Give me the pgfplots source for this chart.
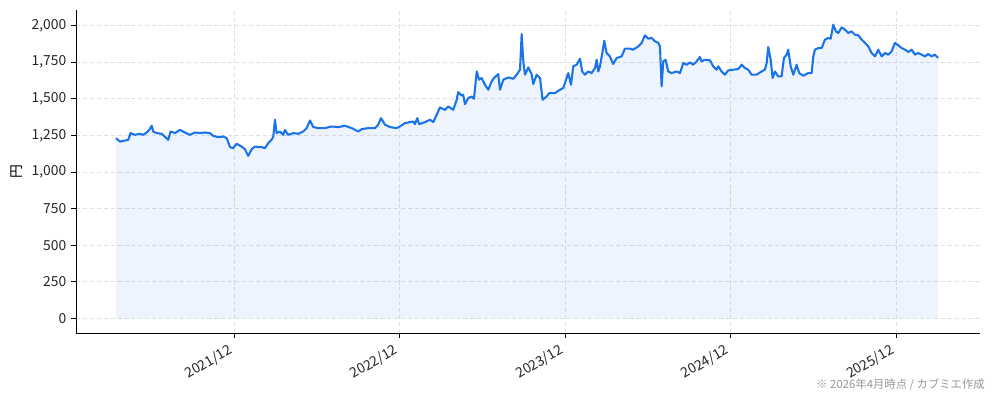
\documentclass[border=0pt]{standalone}
\usepackage{fontspec}
\setmainfont{Noto Sans CJK JP}
\usepackage{pgfplots}
\pgfplotsset{compat=1.18}
\usepackage{pgfplotstable}

\definecolor{lineblue}{RGB}{26,115,232}
\definecolor{gridgray}{RGB}{224,224,224}
\definecolor{notegray}{RGB}{150,150,150}

% x: months from 2021/12, price in yen
\pgfplotstableread{
m price
-8.57 1231
-8.28 1208
-7.92 1215
-7.68 1220
-7.51 1266
-7.19 1254
-6.83 1261
-6.59 1254
-6.35 1270
-6.16 1288
-5.98 1316
-5.87 1277
-5.62 1266
-5.26 1261
-4.90 1231
-4.78 1220
-4.61 1277
-4.29 1266
-3.93 1288
-3.57 1270
-3.21 1254
-2.84 1270
-2.48 1266
-2.12 1270
-1.76 1266
-1.52 1247
-1.15 1238
-0.79 1243
-0.54 1231
-0.30 1170
-0.07 1163
0.18 1193
0.54 1174
0.78 1156
1.02 1110
1.27 1156
1.51 1174
1.82 1170
1.99 1170
2.23 1163
2.47 1197
2.72 1220
2.84 1243
2.96 1357
3.08 1266
3.32 1277
3.56 1254
3.68 1288
3.92 1254
4.29 1266
4.65 1261
5.01 1277
5.26 1300
5.50 1352
5.74 1307
6.10 1300
6.58 1300
7.07 1311
7.55 1307
8.04 1316
8.52 1300
9.00 1277
9.25 1293
9.73 1300
10.21 1300
10.45 1323
10.65 1368
10.94 1323
11.30 1307
11.78 1300
12.02 1311
12.39 1334
12.75 1341
12.99 1345
13.11 1327
13.28 1368
13.42 1327
13.84 1341
14.20 1357
14.44 1341
14.69 1391
14.92 1441
15.29 1425
15.53 1448
15.89 1425
16.14 1494
16.25 1546
16.50 1523
16.61 1528
16.74 1464
16.98 1505
17.22 1516
17.39 1500
17.59 1687
17.77 1631
17.95 1642
18.19 1596
18.43 1562
18.67 1619
18.84 1642
19.15 1669
19.28 1562
19.52 1631
19.88 1646
20.24 1637
20.49 1665
20.73 1699
20.85 1943
20.97 1756
21.09 1665
21.33 1715
21.57 1669
21.69 1601
21.94 1665
22.18 1642
22.37 1494
22.66 1516
22.85 1539
23.26 1539
23.63 1562
23.87 1574
24.11 1642
24.23 1676
24.43 1596
24.59 1722
24.84 1733
25.08 1774
25.24 1687
25.44 1665
25.68 1687
25.93 1676
26.17 1711
26.29 1767
26.41 1687
26.53 1722
26.70 1813
26.84 1897
27.01 1813
27.25 1790
27.49 1738
27.74 1779
28.10 1790
28.34 1843
28.70 1843
28.94 1836
29.31 1858
29.55 1882
29.79 1934
30.03 1911
30.28 1916
30.52 1893
30.76 1882
30.88 1858
31.00 1585
31.12 1756
31.29 1767
31.48 1687
31.73 1676
32.09 1687
32.33 1676
32.57 1745
32.82 1733
33.06 1749
33.29 1733
33.54 1756
33.78 1786
33.90 1756
34.14 1767
34.51 1763
34.74 1722
34.99 1699
35.11 1722
35.35 1687
35.59 1665
35.83 1694
36.19 1699
36.56 1704
36.80 1733
37.04 1711
37.28 1699
37.53 1665
37.89 1665
38.25 1687
38.49 1699
38.62 1745
38.73 1854
38.91 1767
39.05 1642
39.22 1687
39.46 1653
39.70 1653
39.87 1779
40.07 1802
40.18 1836
40.36 1722
40.55 1665
40.79 1733
40.98 1676
41.27 1658
41.63 1676
41.88 1676
42.00 1790
42.12 1836
42.36 1847
42.61 1847
42.84 1904
43.08 1916
43.26 1911
43.45 2007
43.64 1961
43.81 1950
44.06 1988
44.30 1973
44.54 1950
44.78 1961
45.02 1938
45.26 1934
45.51 1904
45.75 1882
45.99 1858
46.23 1813
46.47 1790
46.71 1836
46.96 1790
47.20 1813
47.44 1802
47.68 1824
47.92 1882
48.16 1866
48.41 1847
48.65 1836
48.89 1820
49.13 1836
49.37 1802
49.61 1813
49.86 1802
50.10 1790
50.33 1806
50.58 1790
50.82 1802
51.06 1779
}\pricedata

\begin{document}
\begin{tikzpicture}
\path[use as bounding box] (0,0) rectangle (9.94in,4.01in);
\begin{axis}[
  at={(0.76in,0.68in)}, anchor=south west,
  scale only axis, width=9.04in, height=3.23in,
  xmin=-11.47, xmax=54.09, ymin=-100, ymax=2107,
  axis x line*=bottom, axis y line*=left,
  axis line style={-, line width=0.6pt},
  xtick={0,12,24,36,48},
  xticklabels={2021/12,2022/12,2023/12,2024/12,2025/12},
  ytick={0,250,...,2000},
  tick align=outside, major tick length=3.5pt,
  tick style={black, line width=0.6pt},
  x tick label style={rotate=30, anchor=north east, inner sep=1pt, xshift=-5pt},
  ticklabel style={text=black!85},
  grid=major, grid style={gridgray, dash pattern=on 3pt off 2pt, line width=0.7pt},
  ylabel={円},
  /pgf/number format/assume math mode=true,
  /pgf/number format/1000 sep={,},
]
\addplot[draw=none, fill=lineblue, fill opacity=0.08] table[x=m, y=price]{\pricedata} \closedcycle;
\addplot[lineblue, line width=1.5pt, line join=round] table[x=m, y=price]{\pricedata};
\end{axis}
\node[anchor=east, font=\fontsize{8.2}{10}\selectfont, text=notegray, inner sep=0pt] at (9.85in,0.16in) {※ 2026年4月時点 / カブミエ作成};
\end{tikzpicture}
\end{document}
